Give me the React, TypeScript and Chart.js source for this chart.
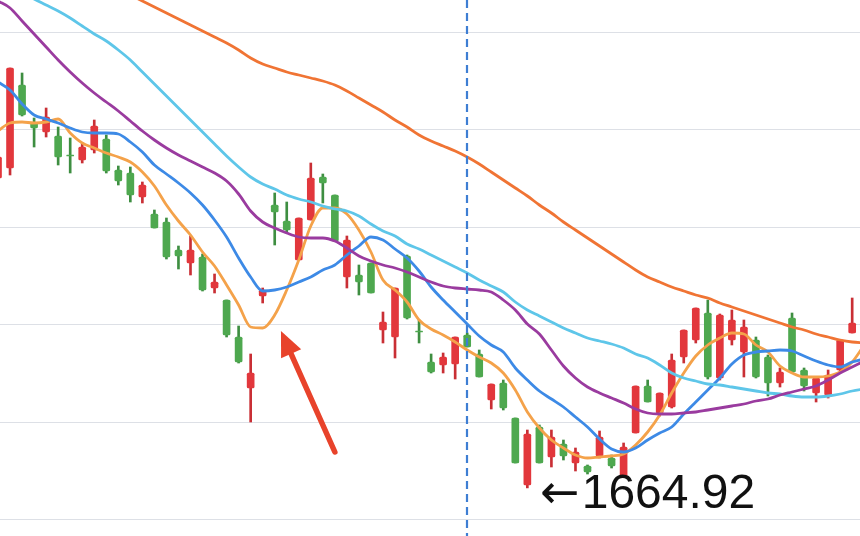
import React, { useEffect, useRef } from 'react';
import { Chart, registerables } from 'chart.js';
Chart.register(...registerables);

// ---- candle data (one entry per trading day, index = day) ----
const open = [1726.9, 1728.9, 1745.5, 1737.9, 1736.1, 1735.3, 1731.5, 1730.5, 1732.5, 1734.7, 1728.5, 1727.9, 1723.1, 1719.7, 1718.1, 1712.5, 1709.9, 1711.1, 1704.9, 1702.5, 1695.1, 1684.9, 1703.3, 1721.5, 1718.3, 1710.5, 1718.5, 1727.1, 1723.5, 1707.1, 1707.5, 1709.9, 1696.5, 1695.1, 1711.3, 1696.3, 1690.1, 1689.5, 1689.7, 1695.5, 1691.7, 1682.5, 1685.9, 1678.9, 1665.5, 1677.1, 1671.1, 1673.7, 1669.9, 1669.3, 1671.3, 1670.9, 1667.1, 1675.9, 1685.3, 1679.9, 1681.1, 1691.1, 1694.5, 1699.9, 1686.9, 1694.5, 1692.1, 1694.5, 1691.1, 1685.9, 1698.9, 1688.5, 1683.9, 1683.5, 1688.5, 1695.9];
const high = [1731.1, 1748.9, 1747.9, 1738.9, 1740.9, 1737.1, 1734.9, 1733.9, 1738.5, 1735.5, 1729.3, 1729.1, 1726.1, 1720.5, 1718.9, 1713.3, 1715.3, 1711.7, 1707.7, 1702.5, 1697.3, 1691.7, 1704.9, 1723.9, 1722.1, 1718.9, 1729.9, 1727.7, 1723.5, 1715.3, 1709.5, 1709.9, 1700.1, 1704.9, 1711.5, 1698.5, 1691.7, 1691.9, 1695.1, 1695.9, 1692.5, 1685.7, 1686.5, 1678.9, 1676.5, 1677.5, 1676.5, 1674.5, 1672.9, 1669.5, 1676.3, 1671.5, 1673.9, 1685.3, 1686.5, 1683.9, 1691.7, 1696.5, 1700.9, 1702.5, 1699.7, 1700.5, 1698.5, 1695.1, 1691.5, 1688.9, 1699.9, 1688.9, 1687.1, 1688.5, 1694.5, 1702.9];
const low = [1726.9, 1727.5, 1739.3, 1733.1, 1735.1, 1729.5, 1727.9, 1729.9, 1731.9, 1727.9, 1725.5, 1722.1, 1721.9, 1716.9, 1710.7, 1708.7, 1707.5, 1704.3, 1703.9, 1695.1, 1689.9, 1678.1, 1701.9, 1713.5, 1716.1, 1710.5, 1718.5, 1721.9, 1714.3, 1704.9, 1703.5, 1703.9, 1693.9, 1690.9, 1698.7, 1693.9, 1687.9, 1687.9, 1686.7, 1693.1, 1687.1, 1680.7, 1680.5, 1669.9, 1664.92, 1669.9, 1669.1, 1670.5, 1668.3, 1667.7, 1670.9, 1668.9, 1667.1, 1675.9, 1682.1, 1679.3, 1680.9, 1689.9, 1693.9, 1686.7, 1686.5, 1693.5, 1687.1, 1686.9, 1683.3, 1685.1, 1687.9, 1684.3, 1682.1, 1682.9, 1688.1, 1695.9];
const close = [1731.1, 1748.9, 1739.5, 1736.9, 1739.1, 1731.1, 1731.3, 1733.1, 1737.3, 1728.3, 1726.3, 1723.5, 1725.5, 1716.9, 1711.1, 1711.3, 1712.5, 1704.5, 1706.1, 1695.5, 1690.1, 1687.9, 1704.5, 1720.1, 1716.5, 1718.9, 1726.9, 1725.9, 1714.3, 1714.5, 1706.1, 1703.9, 1698.1, 1704.9, 1698.9, 1696.1, 1688.1, 1691.1, 1695.1, 1693.1, 1687.1, 1685.7, 1680.9, 1669.9, 1675.7, 1669.9, 1675.1, 1671.3, 1672.1, 1668.1, 1675.1, 1669.3, 1673.1, 1685.3, 1682.1, 1683.9, 1690.5, 1696.5, 1700.9, 1687.1, 1699.5, 1698.5, 1697.1, 1687.1, 1685.9, 1688.1, 1688.1, 1685.3, 1686.9, 1687.5, 1694.5, 1697.9];

// ---- moving averages (one value per day, the last one continues past the crop) ----
const ma5 = [1736.3, 1737.9, 1738.1, 1737.9, 1738.1, 1738.7, 1735.9, 1733.9, 1732.9, 1731.9, 1731.1, 1730.1, 1728.1, 1725.3, 1721.5, 1718.3, 1715.5, 1712.1, 1709.3, 1705.5, 1701.5, 1697.1, 1696.9, 1699.5, 1704.5, 1710.5, 1717.3, 1720.9, 1720.9, 1719.7, 1716.5, 1712.1, 1706.5, 1704.5, 1702.1, 1698.5, 1696.7, 1695.5, 1694.1, 1692.5, 1691.1, 1689.9, 1687.9, 1684.5, 1680.1, 1676.9, 1674.5, 1672.9, 1671.5, 1670.9, 1671.1, 1671.3, 1671.7, 1673.5, 1676.1, 1679.5, 1683.9, 1687.9, 1691.3, 1693.5, 1694.9, 1695.9, 1695.7, 1693.5, 1692.1, 1689.3, 1687.9, 1687.1, 1687.1, 1687.3, 1688.1, 1690.1, 1693.5];
const ma10 = [1746.1, 1744.5, 1741.7, 1739.5, 1738.7, 1737.9, 1736.9, 1736.1, 1735.9, 1735.9, 1735.7, 1734.1, 1732.1, 1729.5, 1727.7, 1725.9, 1723.9, 1721.5, 1718.5, 1715.1, 1710.9, 1707.1, 1704.3, 1704.5, 1705.1, 1706.1, 1707.1, 1708.5, 1709.5, 1711.5, 1713.3, 1715.1, 1714.5, 1712.7, 1710.9, 1708.3, 1705.1, 1702.5, 1700.1, 1697.7, 1695.3, 1693.5, 1692.1, 1688.9, 1686.5, 1684.3, 1682.7, 1681.1, 1679.1, 1677.1, 1674.7, 1672.7, 1672.1, 1672.9, 1674.5, 1675.9, 1677.1, 1679.7, 1682.1, 1684.5, 1686.9, 1689.7, 1691.5, 1692.1, 1692.3, 1692.5, 1692.3, 1691.3, 1690.3, 1689.5, 1689.1, 1690.1, 1690.7];
const ma20 = [1766.9, 1765.5, 1764.1, 1762.7, 1761.5, 1760.3, 1758.9, 1757.3, 1755.7, 1754.3, 1752.5, 1750.5, 1748.1, 1745.7, 1743.3, 1740.9, 1738.5, 1736.1, 1733.7, 1731.3, 1729.1, 1727.1, 1725.7, 1724.7, 1723.5, 1722.7, 1722.1, 1721.3, 1720.7, 1720.3, 1719.3, 1717.7, 1716.3, 1715.3, 1713.7, 1712.7, 1711.5, 1710.3, 1709.1, 1707.9, 1706.5, 1705.3, 1704.1, 1702.1, 1700.5, 1699.3, 1698.1, 1696.9, 1695.9, 1694.9, 1694.3, 1693.7, 1692.9, 1691.7, 1690.9, 1689.5, 1687.9, 1686.9, 1686.3, 1685.7, 1685.5, 1685.1, 1684.7, 1684.3, 1683.9, 1683.7, 1683.3, 1683.1, 1683.1, 1683.3, 1683.7, 1684.3, 1684.7];
const ma30 = [1762.3, 1760.9, 1758.3, 1755.7, 1753.1, 1750.5, 1748.1, 1745.9, 1743.9, 1742.1, 1740.3, 1738.3, 1736.3, 1734.5, 1732.9, 1731.5, 1730.3, 1729.1, 1727.9, 1726.3, 1723.7, 1720.3, 1718.1, 1716.9, 1715.9, 1715.1, 1714.9, 1714.9, 1714.3, 1712.9, 1711.3, 1710.3, 1709.5, 1708.9, 1708.1, 1707.1, 1706.1, 1705.3, 1704.9, 1704.7, 1704.5, 1704.1, 1702.5, 1700.5, 1697.7, 1695.7, 1692.5, 1689.3, 1686.9, 1685.1, 1683.9, 1682.9, 1681.9, 1680.7, 1679.9, 1679.7, 1679.7, 1679.9, 1680.1, 1680.5, 1680.9, 1681.3, 1681.7, 1682.3, 1682.7, 1683.5, 1684.1, 1684.7, 1685.3, 1686.5, 1687.9, 1689.1, 1690.3];
const ma60 = [1776.5, 1775.3, 1774.1, 1772.9, 1771.7, 1770.5, 1769.3, 1768.1, 1766.9, 1765.9, 1764.7, 1763.5, 1762.3, 1761.1, 1759.9, 1758.7, 1757.5, 1756.3, 1755.1, 1753.9, 1752.5, 1750.9, 1749.7, 1748.9, 1748.1, 1747.5, 1746.9, 1746.3, 1745.5, 1744.3, 1742.9, 1741.5, 1740.1, 1738.5, 1737.1, 1735.5, 1734.3, 1733.3, 1732.3, 1731.1, 1729.7, 1728.1, 1726.5, 1724.9, 1723.3, 1721.5, 1719.9, 1718.1, 1716.5, 1714.9, 1713.3, 1711.7, 1710.1, 1708.5, 1707.1, 1706.1, 1705.1, 1704.3, 1703.5, 1702.9, 1701.9, 1701.1, 1700.3, 1699.5, 1698.7, 1697.9, 1697.1, 1696.5, 1695.7, 1695.1, 1694.5, 1694.1, 1693.9];

// ---- axis / annotation values ----
const yMin = 1655.3;
const yMax = 1762.5;
const gridStart = 1658.5;
const gridStep = 19.52;
const gridCount = 6;
const xMin = 0.166;
const xMax = 71.65;
const markerDay = 39;
const arrowTail = { x: 28.0, y: 1672.1 };
const arrowTip = { x: 23.52, y: 1696.3 };

const RED = '#E2373C';
const GREEN = '#4EA84F';
const RED_WICK = '#C92F35';
const GREEN_WICK = '#3E8E41';

const annotationPlugin = {
  id: 'annotations',
  afterDatasetsDraw(chart: any) {
    const { ctx, chartArea } = chart;
    const xs = chart.scales.x;
    const ys = chart.scales.y;
    ctx.save();
    // vertical dashed marker
    const dx = Math.round(xs.getPixelForValue(markerDay));
    ctx.strokeStyle = '#3E7ED3';
    ctx.lineWidth = 2.2;
    ctx.setLineDash([8, 5]);
    ctx.beginPath();
    ctx.moveTo(dx, chartArea.top);
    ctx.lineTo(dx, chartArea.bottom);
    ctx.stroke();
    ctx.setLineDash([]);

    // red arrow
    const x1 = xs.getPixelForValue(arrowTail.x);
    const y1 = ys.getPixelForValue(arrowTail.y);
    const x2 = xs.getPixelForValue(arrowTip.x);
    const y2 = ys.getPixelForValue(arrowTip.y);
    const ang = Math.atan2(y2 - y1, x2 - x1);
    const headLen = 25;
    const headW = 11;
    const bx = x2 - headLen * Math.cos(ang);
    const by = y2 - headLen * Math.sin(ang);
    ctx.strokeStyle = '#E8432B';
    ctx.fillStyle = '#E8432B';
    ctx.lineWidth = 5.5;
    ctx.lineCap = 'round';
    ctx.beginPath();
    ctx.moveTo(x1, y1);
    ctx.lineTo(bx + 2 * Math.cos(ang), by + 2 * Math.sin(ang));
    ctx.stroke();
    ctx.beginPath();
    ctx.moveTo(x2, y2);
    ctx.lineTo(bx + headW * Math.sin(ang), by - headW * Math.cos(ang));
    ctx.lineTo(bx - headW * Math.sin(ang), by + headW * Math.cos(ang));
    ctx.closePath();
    ctx.fill();

    // low label
    let lowIdx = 0;
    low.forEach((v, i) => { if (v < low[lowIdx]) lowIdx = i; });
    const lx = xs.getPixelForValue(lowIdx) + 13;
    const ly = ys.getPixelForValue(low[lowIdx]) + 20;
    ctx.fillStyle = '#111111';
    ctx.textBaseline = 'alphabetic';
    ctx.textAlign = 'left';
    ctx.font = "47px 'DejaVu Sans', sans-serif";
    const arrowText = '\u2190';
    ctx.fillText(arrowText, lx, ly);
    const aw = ctx.measureText(arrowText).width;
    ctx.font = "48px 'Liberation Sans', sans-serif";
    ctx.fillText(low[lowIdx].toFixed(2), lx + aw + 2, ly);
    ctx.restore();
  },
};

export default function App() {
  const ref = useRef<HTMLCanvasElement | null>(null);
  useEffect(() => {
    if (!ref.current) return;
    const isUp = open.map((o, i) => close[i] >= o);
    const bodyColors = isUp.map((u) => (u ? RED : GREEN));
    const wickColors = isUp.map((u) => (u ? RED_WICK : GREEN_WICK));
    const lineDs = (data: number[], color: string) => ({
      type: 'line' as const,
      data: data.map((v, i) => ({ x: i, y: v })),
      borderColor: color,
      borderWidth: 2.8,
      pointRadius: 0,
      cubicInterpolationMode: 'monotone' as const,
      fill: false,
      order: 0,
    });
    const chart = new Chart(ref.current, {
      type: 'bar',
      data: {
        datasets: [
          lineDs(ma60, '#F07434'),
          lineDs(ma30, '#9A3B9F'),
          lineDs(ma20, '#5EC6E9'),
          lineDs(ma10, '#3D8AE6'),
          lineDs(ma5, '#F4A24A'),
          {
            type: 'bar',
            data: open.map((_, i) => ({ x: i, y: [low[i], high[i]] })),
            backgroundColor: wickColors,
            barThickness: 2,
            grouped: false,
            order: 2,
          } as any,
          {
            type: 'bar',
            data: open.map((o, i) => ({ x: i, y: [o, close[i]] })),
            backgroundColor: bodyColors,
            barThickness: 7,
            minBarLength: 1,
            borderRadius: 1.5,
            borderSkipped: false,
            grouped: false,
            order: 1,
          } as any,
        ],
      },
      options: {
        responsive: false,
        animation: false,
        events: [],
        layout: { padding: 0 },
        plugins: { legend: { display: false }, tooltip: { enabled: false } },
        scales: {
          x: { type: 'linear', min: xMin, max: xMax, display: false, offset: false },
          y: {
            type: 'linear',
            min: yMin,
            max: yMax,
            border: { display: false },
            grid: { color: '#DDE0E6', lineWidth: 1, drawTicks: false },
            ticks: { display: false },
            afterBuildTicks: (scale: any) => {
              const t = [];
              for (let n = 0; n < gridCount; n++) t.push({ value: gridStart + n * gridStep });
              scale.ticks = t;
            },
          },
        },
      } as any,
      plugins: [annotationPlugin],
    });
    return () => chart.destroy();
  }, []);
  return (
    <div style={{ position: 'fixed', left: 0, top: 0, width: 860, height: 536, background: '#ffffff' }}>
      <canvas ref={ref} width={860} height={536} />
    </div>
  );
}
